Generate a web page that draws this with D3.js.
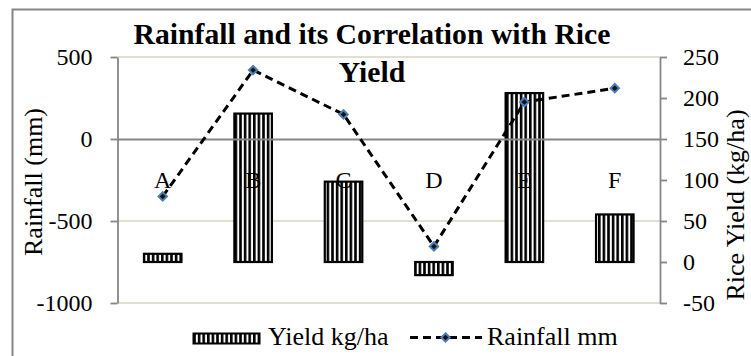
<!DOCTYPE html>
<html>
<head>
<meta charset="utf-8">
<script src="https://cdn.jsdelivr.net/npm/d3@7"></script>
<style>
  html, body { margin: 0; padding: 0; background: #fff; overflow: hidden; }
  svg { display: block; font-family: "Liberation Serif", "Times New Roman", serif; }
</style>
</head>
<body>
<svg id="chart" width="751" height="356"></svg>
<script>
// Sites and their values
const categories = ["A", "B", "C", "D", "E", "F"];
const yieldKgHa = [10, 181, 98, -16, 206, 58];        // bars, right axis
const rainfallMm = [-350, 420, 150, -655, 225, 310];  // dashed line, left axis
const leftTicks = [-1000, -500, 0, 500];
const rightTicks = [-50, 0, 50, 100, 150, 200, 250];

const svg = d3.select("#chart");
const W = 751, H = 356;
const plot = { left: 117.5, right: 660, top: 57, bottom: 303 };

const gridColor = "#d8d4bf";
const axisColor = "#868686";
const serif = "'Liberation Serif', 'Times New Roman', serif";
const fmt = d => String(d); // plain hyphen minus, no thousands separator

// Outer chart frame
svg.append("rect")
  .attr("x", 12.5).attr("y", 9.5)
  .attr("width", W + 20).attr("height", H + 20)
  .attr("fill", "#fff")
  .attr("stroke", axisColor).attr("stroke-width", 2);

// Vertical stripe fill for the bars
const defs = svg.append("defs");
const pat = defs.append("pattern")
  .attr("id", "vstripe")
  .attr("patternUnits", "userSpaceOnUse")
  .attr("width", 4.6).attr("height", 10);
pat.append("rect").attr("width", 4.6).attr("height", 10).attr("fill", "#fff");
pat.append("rect").attr("width", 2.6).attr("height", 10).attr("fill", "#000");

const x = d3.scaleBand().domain(categories).range([plot.left, plot.right]).padding(0);
const yL = d3.scaleLinear().domain([-1000, 500]).range([plot.bottom, plot.top]);
const yR = d3.scaleLinear().domain([-50, 250]).range([plot.bottom, plot.top]);

// Gridlines at the rainfall ticks
svg.append("g").selectAll("line")
  .data(leftTicks.filter(t => t !== 0))
  .join("line")
  .attr("x1", plot.left).attr("x2", plot.right)
  .attr("y1", d => yL(d)).attr("y2", d => yL(d))
  .attr("stroke", gridColor).attr("stroke-width", 1.5);

// Bars: yield
const barW = x.bandwidth() * 0.415;
svg.append("g").selectAll("rect")
  .data(categories.map((c, i) => ({ c, v: yieldKgHa[i] })))
  .join("rect")
  .attr("x", d => x(d.c) + x.bandwidth() / 2 - barW / 2)
  .attr("y", d => Math.min(yR(d.v), yR(0)))
  .attr("width", barW)
  .attr("height", d => Math.abs(yR(d.v) - yR(0)))
  .attr("fill", "url(#vstripe)")
  .attr("stroke", "#000").attr("stroke-width", 2.2);

// Category axis crossing at rainfall 0
const xAxis = svg.append("g")
  .attr("transform", `translate(0,${yL(0)})`)
  .call(d3.axisBottom(x).tickSize(0).tickPadding(32));
xAxis.select(".domain").attr("stroke", axisColor).attr("stroke-width", 1.8);
xAxis.selectAll("text")
  .attr("font-size", 24).attr("fill", "#000")
  .attr("font-family", serif);

// Left axis: rainfall
const leftAxis = svg.append("g")
  .attr("transform", `translate(${plot.left},0)`)
  .call(d3.axisLeft(yL).tickValues(leftTicks).tickFormat(fmt)
    .tickSize(7).tickPadding(18).tickSizeOuter(0));
leftAxis.select(".domain").attr("stroke", axisColor).attr("stroke-width", 1.8);
leftAxis.selectAll(".tick line").attr("stroke", axisColor).attr("stroke-width", 1.8);
leftAxis.selectAll("text")
  .attr("font-size", 24).attr("fill", "#000")
  .attr("font-family", serif);

// Right axis: yield
const rightAxis = svg.append("g")
  .attr("transform", `translate(${plot.right},0)`)
  .call(d3.axisRight(yR).tickValues(rightTicks).tickFormat(fmt)
    .tickSize(7).tickPadding(16).tickSizeOuter(0));
rightAxis.select(".domain").attr("stroke", axisColor).attr("stroke-width", 1.8);
rightAxis.selectAll(".tick line").attr("stroke", axisColor).attr("stroke-width", 1.8);
rightAxis.selectAll("text")
  .attr("font-size", 24).attr("fill", "#000")
  .attr("font-family", serif);

// Rainfall line
const cx = c => x(c) + x.bandwidth() / 2;
const rainPts = categories.map((c, i) => [cx(c), yL(rainfallMm[i])]);
svg.append("path")
  .attr("d", d3.line()(rainPts))
  .attr("fill", "none")
  .attr("stroke", "#000").attr("stroke-width", 3)
  .attr("stroke-dasharray", "8,5");

const diamond = (px, py, r) => `M${px},${py - r}L${px + r},${py}L${px},${py + r}L${px - r},${py}Z`;
svg.append("g").selectAll("path")
  .data(rainPts)
  .join("path")
  .attr("d", d => diamond(d[0], d[1], 4.2))
  .attr("fill", "#111")
  .attr("stroke", "#4a7ebb").attr("stroke-width", 2);

// Title
const title = svg.append("text")
  .attr("text-anchor", "middle")
  .attr("font-weight", "bold").attr("font-size", 29.7);
title.append("tspan").attr("x", 372).attr("y", 44).text("Rainfall and its Correlation with Rice");
title.append("tspan").attr("x", 372).attr("y", 82).text("Yield");

// Axis titles
svg.append("text")
  .attr("transform", "translate(41.5,182) rotate(-90)")
  .attr("text-anchor", "middle").attr("font-size", 26)
  .text("Rainfall (mm)");
svg.append("text")
  .attr("transform", "translate(744,205) rotate(-90)")
  .attr("text-anchor", "middle").attr("font-size", 26)
  .text("Rice Yield (kg/ha)");

// Legend
const legend = svg.append("g");
legend.append("rect")
  .attr("x", 193.5).attr("y", 333.5).attr("width", 66).attr("height", 10)
  .attr("fill", "url(#vstripe)").attr("stroke", "#000").attr("stroke-width", 2);
legend.append("text").attr("x", 268).attr("y", 345).attr("font-size", 26).text("Yield kg/ha");
legend.append("line")
  .attr("x1", 410).attr("x2", 482).attr("y1", 337.5).attr("y2", 337.5)
  .attr("stroke", "#000").attr("stroke-width", 3).attr("stroke-dasharray", "8,5");
legend.append("path")
  .attr("d", diamond(445.5, 337.5, 4.2))
  .attr("fill", "#111").attr("stroke", "#4a7ebb").attr("stroke-width", 2);
legend.append("text").attr("x", 487).attr("y", 345).attr("font-size", 26).text("Rainfall mm");
</script>
</body>
</html>
